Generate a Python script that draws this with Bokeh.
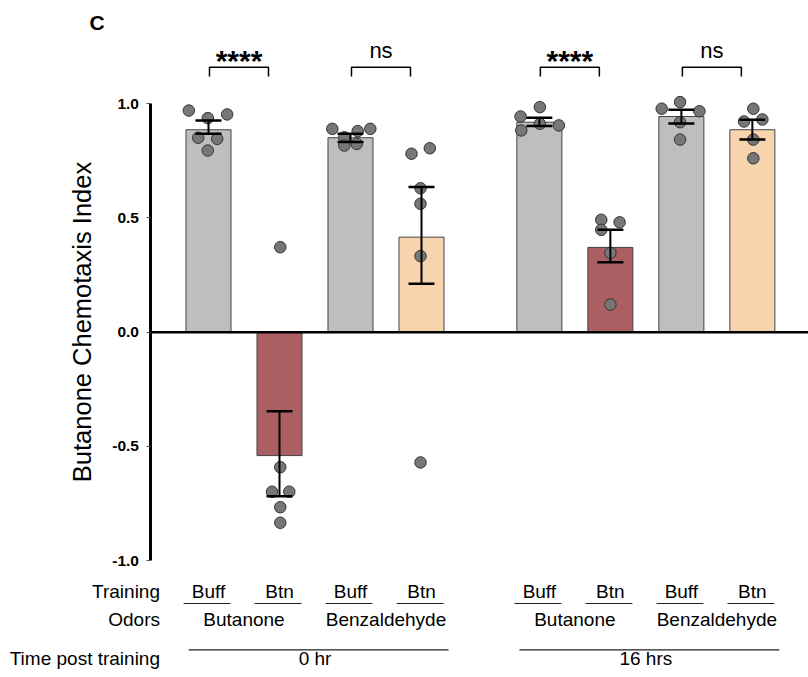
import math
from bokeh.plotting import figure
from bokeh.models import (Range1d, LinearAxis, FixedTicker, NumeralTickFormatter,
                          ColumnDataSource, Whisker, TeeHead)
from bokeh.core.properties import value
from bokeh.embed import file_html
from bokeh.resources import INLINE

# ---------------- data ----------------
times = ["0 hr", "16 hrs"]
odors = ["Butanone", "Benzaldehyde"]
training = ["Buff", "Btn"]

mean_ci = [0.886, -0.540, 0.851, 0.416, 0.919, 0.371, 0.944, 0.886]
sem_upper = [0.926, -0.346, 0.868, 0.635, 0.938, 0.448, 0.973, 0.930]
sem_lower = [0.868, -0.718, 0.832, 0.212, 0.902, 0.306, 0.913, 0.843]

points = [
    [0.970, 0.937, 0.953, 0.851, 0.846, 0.795],
    [0.372, -0.591, -0.698, -0.698, -0.766, -0.834],
    [0.890, 0.880, 0.890, 0.853, 0.817, 0.824],
    [0.781, 0.805, 0.630, 0.562, 0.333, -0.570],
    [0.944, 0.985, 0.883, 0.912, 0.905],
    [0.492, 0.481, 0.448, 0.347, 0.121],
    [0.978, 1.007, 0.967, 0.919, 0.843],
    [0.978, 0.922, 0.931, 0.843, 0.761],
]
# horizontal scatter of the dots, in bar-slot units
jitter = [
    [-0.277, -0.010, 0.263, -0.145, 0.123, -0.010],
    [0.011, 0.011, -0.106, 0.138, 0.011, 0.011],
    [-0.256, 0.101, 0.279, -0.087, -0.087, 0.087],
    [-0.141, 0.117, -0.014, -0.014, -0.014, -0.014],
    [-0.265, 0.007, -0.255, 0.007, 0.275],
    [-0.128, 0.130, -0.128, 0.000, 0.000],
    [-0.277, -0.018, 0.254, -0.018, -0.018],
    [0.014, -0.117, 0.141, 0.014, 0.014],
]
significance = ["****", "ns", "****", "ns"]
y_title = "Butanone Chemotaxis Index"

# ---------------- layout helpers ----------------
W, H = 808, 677
XU, YU = 71.0, 228.5          # px per data unit
X0_PX, Y0_PX = 208.0, 331.7   # px of data origin


def xpx(px):
    return (px - X0_PX) / XU


def ypx(py):
    return (Y0_PX - py) / YU


def ytxt(baseline_px, font_px):
    # compensate for where the alphabetic baseline ends up
    return ypx(baseline_px - 0.38 * font_px)


GROUP_GAP = 0.66
xs, colors = [], []
for ti, t in enumerate(times):
    for oi, o in enumerate(odors):
        for ri, r in enumerate(training):
            xs.append(ti * (4 + GROUP_GAP) + oi * 2 + ri)
            if r == "Buff":
                colors.append("#bebebe")
            elif o == "Butanone":
                colors.append("#ab5f63")
            else:
                colors.append("#f8d4ae")

p = figure(width=W, height=H, output_backend="svg", toolbar_location=None,
           x_axis_location=None, y_axis_location=None, min_border=0,
           x_range=Range1d(-X0_PX / XU, (W - X0_PX) / XU),
           y_range=Range1d((Y0_PX - H) / YU, Y0_PX / YU))
p.outline_line_color = None
p.grid.visible = False
p.background_fill_color = "white"

FONT = value("Liberation Sans")
axis_x = xpx(149.5)

# y axis
yaxis = LinearAxis(fixed_location=axis_x, bounds=(-1, 1),
                   ticker=FixedTicker(ticks=[-1, -0.5, 0, 0.5, 1]),
                   formatter=NumeralTickFormatter(format="0.0"))
yaxis.major_label_text_font = "Liberation Sans"
yaxis.major_label_text_font_style = "bold"
yaxis.major_label_text_font_size = "15.5px"
yaxis.major_label_text_color = "black"
yaxis.major_label_standoff = 7
yaxis.axis_line_width = 3
yaxis.axis_line_color = "black"
yaxis.major_tick_out = 4
yaxis.major_tick_in = 0
yaxis.major_tick_line_color = "#555555"
yaxis.minor_tick_out = 0
yaxis.minor_tick_in = 0
p.add_layout(yaxis, "left")

# y axis title (rotated text)
p.text(x=[xpx(81)], y=[ypx(321.5)], text=[y_title], angle=math.pi / 2,
       text_font=FONT, text_font_size=value("25.5px"), text_align="center",
       text_baseline="middle", text_color="black")

# bars
p.vbar(x=xs, top=mean_ci, bottom=0, width=0.634, fill_color=colors,
       line_color="#444444", line_width=1)

# zero line
p.segment(x0=[axis_x], x1=[p.x_range.end], y0=[0], y1=[0],
          line_color="black", line_width=2.5)

# dots
dx, dy = [], []
for i, vals in enumerate(points):
    for v, j in zip(vals, jitter[i]):
        dx.append(xs[i] + j)
        dy.append(v)
p.scatter(x=dx, y=dy, size=11.5, fill_color="#777777", line_color="#333333",
          line_width=1)

# error bars
src = ColumnDataSource(dict(x=xs, lo=sem_lower, hi=sem_upper))
wh = Whisker(source=src, base="x", upper="hi", lower="lo",
             line_color="black", line_width=2, level="overlay",
             upper_head=TeeHead(size=26, line_width=2.5, line_color="black"),
             lower_head=TeeHead(size=26, line_width=2.5, line_color="black"))
p.add_layout(wh)

# significance brackets
bx, by, tx, stars, ns_x = [], [], [], [], []
top_y, leg_y = ypx(66.7), ypx(76)
for k, s in enumerate(significance):
    xl = xs[2 * k]
    a, b = xl + 0.014, xl + 0.845
    bx.append([a, a, b, b])
    by.append([leg_y, top_y, top_y, leg_y])
    if s == "ns":
        ns_x.append((a + b) / 2)
    else:
        tx.append((a + b) / 2)
        stars.append(s)
p.multi_line(xs=bx, ys=by, line_color="black", line_width=1.5)
p.text(x=tx, y=[ytxt(71.5, 30)] * len(tx), text=stars, text_font=FONT,
       text_font_style="bold", text_font_size=value("30px"),
       text_align="center", text_baseline="alphabetic", text_color="black")
p.text(x=ns_x, y=[ytxt(58.3, 22)] * len(ns_x), text=["ns"] * len(ns_x),
       text_font=FONT, text_font_size=value("22px"),
       text_align="center", text_baseline="alphabetic", text_color="black")

# panel letter
p.text(x=[xpx(89)], y=[ytxt(30, 21)], text=["C"], text_font=FONT,
       text_font_style="bold", text_font_size=value("21px"),
       text_align="left", text_baseline="alphabetic", text_color="black")

# bottom category labels
LAB = 19
row_train, row_odor, row_time = (ytxt(598, LAB), ytxt(626, LAB),
                                 ytxt(665, LAB))
lab_fs = value(f"{LAB}px")
p.text(x=[xpx(159.5)] * 3, y=[row_train, row_odor, row_time],
       text=["Training", "Odors", "Time post training"], text_font=FONT,
       text_font_size=lab_fs, text_align="right", text_baseline="alphabetic",
       text_color="black")

train_labels = [r for t in times for o in odors for r in training]
p.text(x=xs, y=[row_train] * len(xs), text=train_labels, text_font=FONT,
       text_font_size=lab_fs, text_align="center", text_baseline="alphabetic",
       text_color="black")
ul_y = ypx(603)
p.segment(x0=[x - 0.35 for x in xs], x1=[x + 0.31 for x in xs],
          y0=[ul_y] * len(xs), y1=[ul_y] * len(xs), line_color="#222222",
          line_width=1.2)

odor_x, odor_t = [], []
for k in range(len(times) * len(odors)):
    odor_x.append((xs[2 * k] + xs[2 * k + 1]) / 2)
    odor_t.append(odors[k % len(odors)])
p.text(x=odor_x, y=[row_odor] * len(odor_x), text=odor_t, text_font=FONT,
       text_font_size=lab_fs, text_align="center", text_baseline="alphabetic",
       text_color="black")

time_x, gl0, gl1 = [], [], []
for ti in range(len(times)):
    first, last = xs[4 * ti], xs[4 * ti + 3]
    time_x.append((first + last) / 2)
    gl0.append(first - 0.28)
    gl1.append(last + 0.38)
gl_y = ypx(649.3)
p.segment(x0=gl0, x1=gl1, y0=[gl_y] * 2, y1=[gl_y] * 2, line_color="#222222",
          line_width=1.2)
p.text(x=time_x, y=[row_time] * len(time_x), text=times, text_font=FONT,
       text_font_size=lab_fs, text_align="center", text_baseline="alphabetic",
       text_color="black")

open("out.html", "w").write(file_html(p, INLINE))
